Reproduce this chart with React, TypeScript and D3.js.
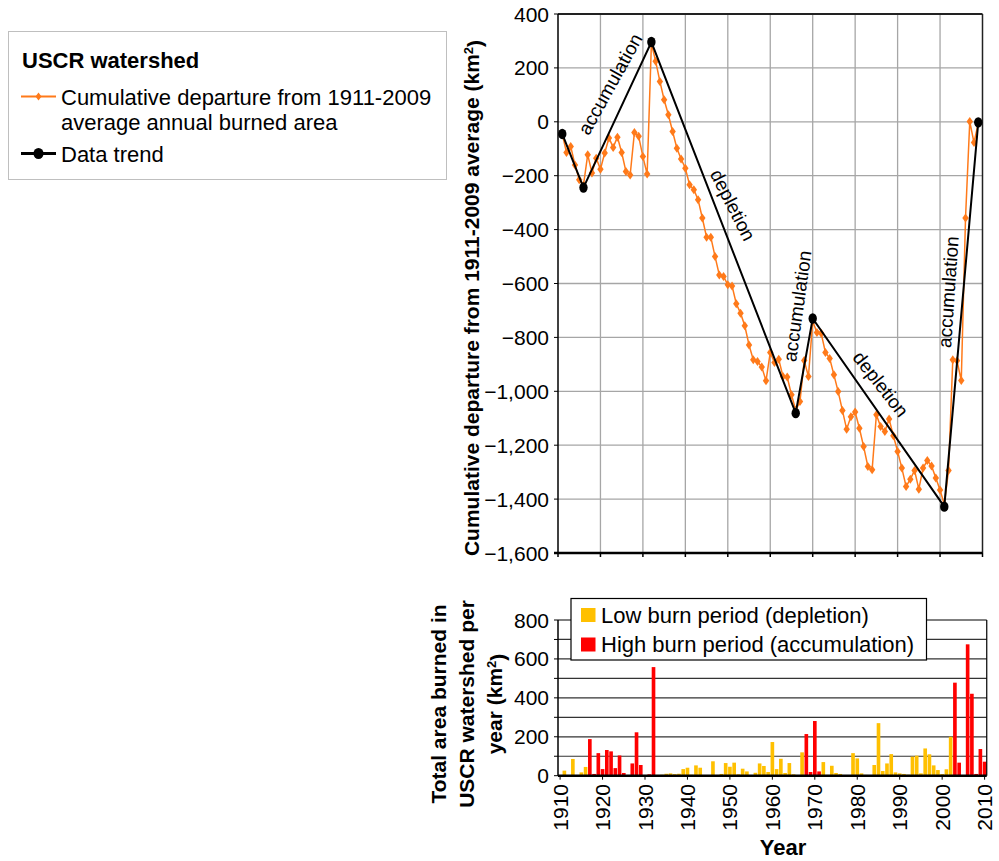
import React from 'react';
import * as d3 from 'd3';

// ---------- DATA ----------
const lineYears = [
  1911,1912,1913,1914,1915,1916,1917,1918,1919,1920,1921,1922,1923,1924,1925,1926,1927,1928,1929,1930,
  1931,1932,1933,1934,1935,1936,1937,1938,1939,1940,1941,1942,1943,1944,1945,1946,1947,1948,1949,1950,
  1951,1952,1953,1954,1955,1956,1957,1958,1959,1960,1961,1962,1963,1964,1965,1966,1967,1968,1969,1970,
  1971,1972,1973,1974,1975,1976,1977,1978,1979,1980,1981,1982,1983,1984,1985,1986,1987,1988,1989,1990,
  1991,1992,1993,1994,1995,1996,1997,1998,1999,2000,2001,2002,2003,2004,2005,2006,2007,2008,2009,
];
const cumulativeDeparture = [
  -45,-114,-92,-160,-215,-235,-122,-190,-135,-176,-116,-60,-95,-57,-114,-184,-197,-40,-54,-129,
  -194,290,225,150,82,26,-36,-98,-138,-172,-234,-252,-289,-357,-428,-428,-500,-568,-574,-605,
  -609,-675,-710,-757,-828,-883,-889,-910,-961,-856,-893,-881,-945,-947,-1013,-1070,-1038,-886,-945,-740,
  -782,-785,-856,-878,-939,-1001,-1071,-1141,-1094,-1077,-1137,-1205,-1279,-1291,-1087,-1131,-1149,-1103,-1165,-1223,
  -1285,-1353,-1326,-1294,-1363,-1285,-1257,-1277,-1322,-1366,-1420,-1294,-883,-887,-960,-357,1,-77,-5,
];
const trendYears = [1911, 1916, 1932, 1966, 1970, 2001, 2009];
const trendValues = [-45, -244, 296, -1081, -730, -1428, -2];

const barYears = [
  1911,1912,1913,1914,1915,1916,1917,1918,1919,1920,1921,1922,1923,1924,1925,1926,1927,1928,1929,1930,
  1931,1932,1933,1934,1935,1936,1937,1938,1939,1940,1941,1942,1943,1944,1945,1946,1947,1948,1949,1950,
  1951,1952,1953,1954,1955,1956,1957,1958,1959,1960,1961,1962,1963,1964,1965,1966,1967,1968,1969,1970,
  1971,1972,1973,1974,1975,1976,1977,1978,1979,1980,1981,1982,1983,1984,1985,1986,1987,1988,1989,1990,
  1991,1992,1993,1994,1995,1996,1997,1998,1999,2000,2001,2002,2003,2004,2005,2006,2007,2008,2009,2010,
];
const burnedArea = [
  26,2,86,2,17,45,188,9,116,34,132,125,39,104,14,1,63,223,55,0,
  7,558,3,5,10,12,8,10,34,41,5,53,41,3,2,74,3,9,65,46,
  67,7,36,22,2,15,63,50,19,173,34,87,14,65,7,3,120,214,19,281,
  22,70,4,51,14,9,3,2,116,89,12,4,2,55,270,24,63,111,17,12,
  9,5,98,103,12,140,110,53,29,8,33,200,478,67,3,675,421,9,137,72,
];
const highBurnYears = [
  1917,1918,1919,1920,1921,1922,1923,1924,1925,1926,1927,1928,1929,1930,1931,1932,
  1968,1969,1970,1971,
  2003,2004,2005,2006,2007,2008,2009,2010,
];

const topYTicks = [400, 200, 0, -200, -400, -600, -800, -1000, -1200, -1400, -1600];
const bottomYTicks = [800, 600, 400, 200, 0];
const bottomYGrid = [100, 200, 300, 400, 500, 600, 700];
const xTicks = [1910, 1920, 1930, 1940, 1950, 1960, 1970, 1980, 1990, 2000, 2010];

// ---------- STYLE ----------
const FONT = 'Liberation Sans, Arial, Helvetica, sans-serif';
const ORANGE = '#FF7A1A';
const YELLOW = '#FFC000';
const RED = '#FF0000';
const GRID = '#A6A6A6';

export default function App() {
  const x = d3.scaleLinear().domain([1910, 2010]).range([558, 982.5]);
  const yT = d3.scaleLinear().domain([-1600, 400]).range([553, 14]);
  const yB = d3.scaleLinear().domain([0, 800]).range([775.7, 620]);
  const fmt = d3.format(',');

  const lineData = lineYears.map((yr, i) => ({ yr, v: cumulativeDeparture[i] }));
  const trendData = trendYears.map((yr, i) => ({ yr, v: trendValues[i] }));
  const lineGen = d3.line<{ yr: number; v: number }>().x(d => x(d.yr)).y(d => yT(d.v));

  const plotL = 558, plotRTop = 982.5, plotTop = 14, plotBot = 553;
  const bRight = x(2011), bTop = 620, bBot = 775.7;
  const high = new Set(highBurnYears);

  const fs = 21;
  const af = 19;

  return (
    <svg width={999} height={861} style={{ position: 'absolute', left: 0, top: 0, background: '#fff' }}
      fontFamily={FONT}>
      {/* ---------- Legend box top-left ---------- */}
      <rect x={8.5} y={31.5} width={438} height={148} fill="#fff" stroke="#BFBFBF" strokeWidth={1} />
      <text x={22} y={68} fontSize={22} fontWeight="bold">USCR watershed</text>
      <line x1={21} x2={56} y1={96.5} y2={96.5} stroke={ORANGE} strokeWidth={2} />
      <path d="M0,-4L3,0L0,4L-3,0Z" transform="translate(38.5,96.5)" fill={ORANGE} />
      <text x={61} y={105} fontSize={22}>Cumulative departure from 1911-2009</text>
      <text x={61} y={130} fontSize={22}>average annual burned area</text>
      <line x1={21} x2={56} y1={153.5} y2={153.5} stroke="#000" strokeWidth={3} />
      <ellipse cx={38.5} cy={153.5} rx={5} ry={5.5} fill="#000" />
      <text x={61} y={162} fontSize={22}>Data trend</text>

      {/* ---------- TOP CHART ---------- */}
      {xTicks.slice(1, -1).map(t => (
        <line key={'vg' + t} x1={x(t)} x2={x(t)} y1={plotTop} y2={plotBot} stroke={GRID} strokeWidth={1.3} />
      ))}
      {topYTicks.slice(1, -1).map(t => (
        <line key={'hg' + t} x1={plotL} x2={plotRTop} y1={yT(t)} y2={yT(t)} stroke={GRID} strokeWidth={1.3} />
      ))}
      {/* frame */}
      <line x1={plotL} x2={plotRTop} y1={plotTop} y2={plotTop} stroke="#222" strokeWidth={2} />
      <line x1={plotRTop} x2={plotRTop} y1={plotTop} y2={plotBot} stroke="#222" strokeWidth={1.5} />
      <line x1={plotL} x2={plotL} y1={plotTop} y2={plotBot} stroke="#000" strokeWidth={1.5} />
      <line x1={plotL - 4} x2={plotRTop} y1={plotBot} y2={plotBot} stroke="#000" strokeWidth={2.5} />
      {topYTicks.map(t => (
        <line key={'yt' + t} x1={plotL - 4} x2={plotL} y1={yT(t)} y2={yT(t)} stroke="#000" strokeWidth={1} />
      ))}
      {xTicks.map(t => (
        <line key={'xt' + t} x1={x(t)} x2={x(t)} y1={plotBot} y2={plotBot + 4} stroke="#000" strokeWidth={1.5} />
      ))}
      {topYTicks.map(t => (
        <text key={'yl' + t} x={549} y={yT(t)} dy="0.36em" textAnchor="end" fontSize={fs}>{fmt(t)}</text>
      ))}
      <text transform={`translate(471,298) rotate(-90)`} textAnchor="middle" dy="0.36em" fontSize={21} fontWeight="bold">
        Cumulative departure from 1911-2009 average (km<tspan dy="-0.45em" fontSize={13}>2</tspan><tspan dy="0.45em">)</tspan>
      </text>

      {/* orange series */}
      <path d={lineGen(lineData) || ''} fill="none" stroke={ORANGE} strokeWidth={1.5} />
      {lineData.map(d => (
        <path key={'m' + d.yr} d="M0,-4.5L3.2,0L0,4.5L-3.2,0Z" transform={`translate(${x(d.yr)},${yT(d.v)})`} fill={ORANGE} />
      ))}
      {/* trend */}
      <path d={lineGen(trendData) || ''} fill="none" stroke="#000" strokeWidth={2} />
      {trendData.map(d => (
        <ellipse key={'t' + d.yr} cx={x(d.yr)} cy={yT(d.v)} rx={4.2} ry={5.2} fill="#000" />
      ))}

      {/* annotations */}
      <text transform="translate(610,84) rotate(-61)" textAnchor="middle" dy="0.36em" fontSize={af}>accumulation</text>
      <text transform="translate(733,205) rotate(63)" textAnchor="middle" dy="0.36em" fontSize={af}>depletion</text>
      <text transform="translate(797,306) rotate(-82)" textAnchor="middle" dy="0.36em" fontSize={af}>accumulation</text>
      <text transform="translate(881,384) rotate(52)" textAnchor="middle" dy="0.36em" fontSize={af}>depletion</text>
      <text transform="translate(948,292) rotate(-86)" textAnchor="middle" dy="0.36em" fontSize={af}>accumulation</text>

      {/* ---------- BOTTOM CHART ---------- */}
      {bottomYGrid.map(t => (
        <line key={'bg' + t} x1={plotL} x2={bRight} y1={yB(t)} y2={yB(t)} stroke="#333" strokeWidth={1.2} />
      ))}
      {barYears.map((yr, i) => {
        const v = burnedArea[i];
        const x0 = x(yr), x1 = x(yr + 1);
        return (
          <rect key={'b' + yr} x={x0 + 0.3} width={x1 - x0 - 0.6} y={yB(v)} height={yB(0) - yB(v)}
            fill={high.has(yr) ? RED : YELLOW} />
        );
      })}
      <line x1={plotL} x2={bRight} y1={bTop} y2={bTop} stroke="#000" strokeWidth={1.2} />
      <line x1={bRight} x2={bRight} y1={bTop} y2={bBot} stroke="#000" strokeWidth={1.2} />
      <line x1={plotL} x2={plotL} y1={bTop} y2={bBot} stroke="#000" strokeWidth={1.5} />
      <line x1={plotL} x2={bRight} y1={bBot} y2={bBot} stroke="#000" strokeWidth={2.5} />
      {[...bottomYGrid, 0, 800].map(t => (
        <line key={'byt' + t} x1={plotL - 4} x2={plotL} y1={yB(t)} y2={yB(t)} stroke="#000" strokeWidth={1} />
      ))}
      {xTicks.map(t => (
        <line key={'bxt' + t} x1={x(t) + 2.1} x2={x(t) + 2.1} y1={bBot} y2={bBot + 4} stroke="#000" strokeWidth={1} />
      ))}
      {bottomYTicks.map(t => (
        <text key={'byl' + t} x={549} y={yB(t)} dy="0.36em" textAnchor="end" fontSize={fs}>{fmt(t)}</text>
      ))}
      {xTicks.map(t => (
        <text key={'bxl' + t} transform={`translate(${x(t) + 2.1},784) rotate(-90)`} textAnchor="end" dy="0.36em" fontSize={fs}>{t}</text>
      ))}
      <text x={783} y={855} textAnchor="middle" fontSize={22} fontWeight="bold">Year</text>
      <text transform="translate(438,704) rotate(-90)" textAnchor="middle" dy="0.36em" fontSize={21} fontWeight="bold">Total area burned in</text>
      <text transform="translate(466,704) rotate(-90)" textAnchor="middle" dy="0.36em" fontSize={21} fontWeight="bold">USCR watershed per</text>
      <text transform="translate(494,704) rotate(-90)" textAnchor="middle" dy="0.36em" fontSize={21} fontWeight="bold">
        year (km<tspan dy="-0.45em" fontSize={13}>2</tspan><tspan dy="0.45em">)</tspan>
      </text>

      {/* bottom legend */}
      <rect x={571} y={598.5} width={355.5} height={61.5} fill="#fff" stroke="#000" strokeWidth={1.2} />
      <rect x={581} y={608} width={14.5} height={14} fill={YELLOW} />
      <text x={601} y={622.5} fontSize={22}>Low burn period (depletion)</text>
      <rect x={581} y={637.5} width={14.5} height={14} fill={RED} />
      <text x={601} y={652} fontSize={22}>High burn period (accumulation)</text>
    </svg>
  );
}
